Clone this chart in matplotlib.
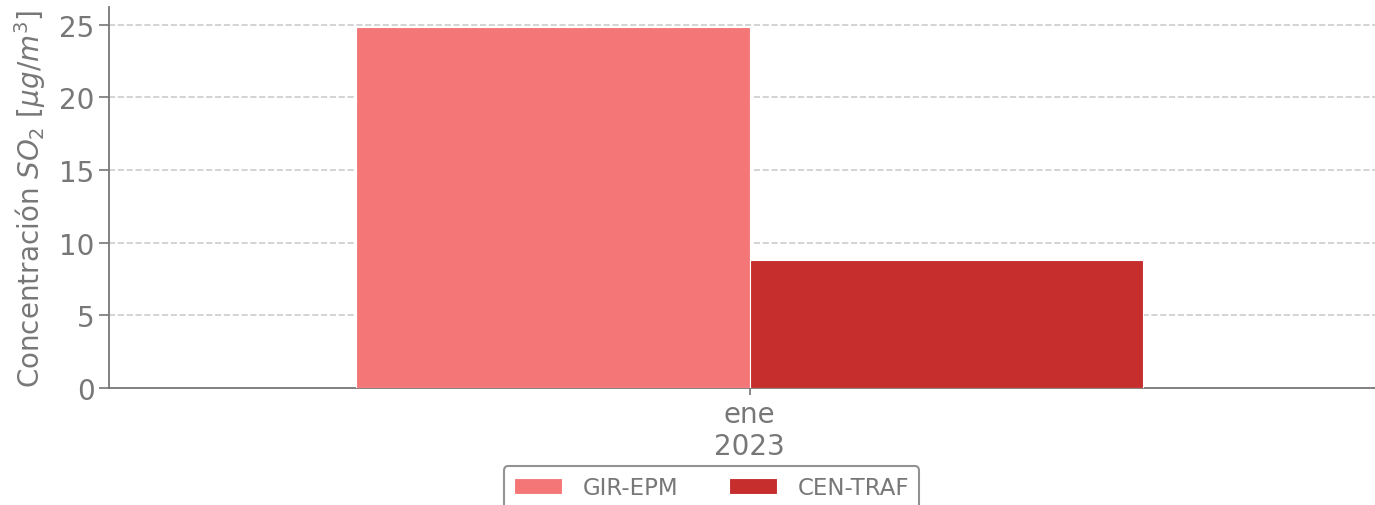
import matplotlib
matplotlib.use('Agg')
import matplotlib.pyplot as plt

# data
months = ['ene\n2023']
stations = ['GIR-EPM', 'CEN-TRAF']
values = [24.8, 8.8]
colors = ['#F47676', '#C62D2D']

grey = '#777777'
plt.rcParams['font.family'] = 'DejaVu Sans'

fig = plt.figure(figsize=(13.75, 5.06), dpi=100)
ax = fig.add_axes([0.0793, 0.2312, 0.9207, 0.7528])

width = 0.31
for i, (name, val) in enumerate(zip(stations, values)):
    offset = (i - 0.5) * width
    ax.bar(0 + offset, val, width=width, color=colors[i], edgecolor='white',
           linewidth=0.8, label=name, zorder=3)

ax.set_xlim(-0.505, 0.493)
ax.set_ylim(0, 26.2)
ax.set_xticks([0])
ax.set_xticklabels(months, color=grey, fontsize=20)
ax.set_yticks([0, 5, 10, 15, 20, 25])
ax.tick_params(axis='y', labelsize=20, colors=grey, length=7, width=1.2)
ax.tick_params(axis='x', colors=grey, length=5, width=1.2)
ax.set_ylabel('Concentración $SO_2$ [$\\mu g/m^3$]', color=grey, fontsize=20,
              labelpad=8)

ax.grid(axis='y', linestyle='--', color='#cccccc', linewidth=1.2, zorder=0)
for side in ['top', 'right']:
    ax.spines[side].set_visible(False)
for side in ['left', 'bottom']:
    ax.spines[side].set_color(grey)
    ax.spines[side].set_linewidth(1.3)

leg = ax.legend(loc='upper center', bbox_to_anchor=(0.476, -0.175), ncol=2,
                fontsize=16.5, frameon=True, fancybox=True, handlelength=2.1,
                handletextpad=0.9, columnspacing=2.2, borderpad=0.45)
leg.get_frame().set_edgecolor(grey)
leg.get_frame().set_linewidth(1.5)
for t in leg.get_texts():
    t.set_color(grey)

fig.savefig('out.png', dpi=100)
